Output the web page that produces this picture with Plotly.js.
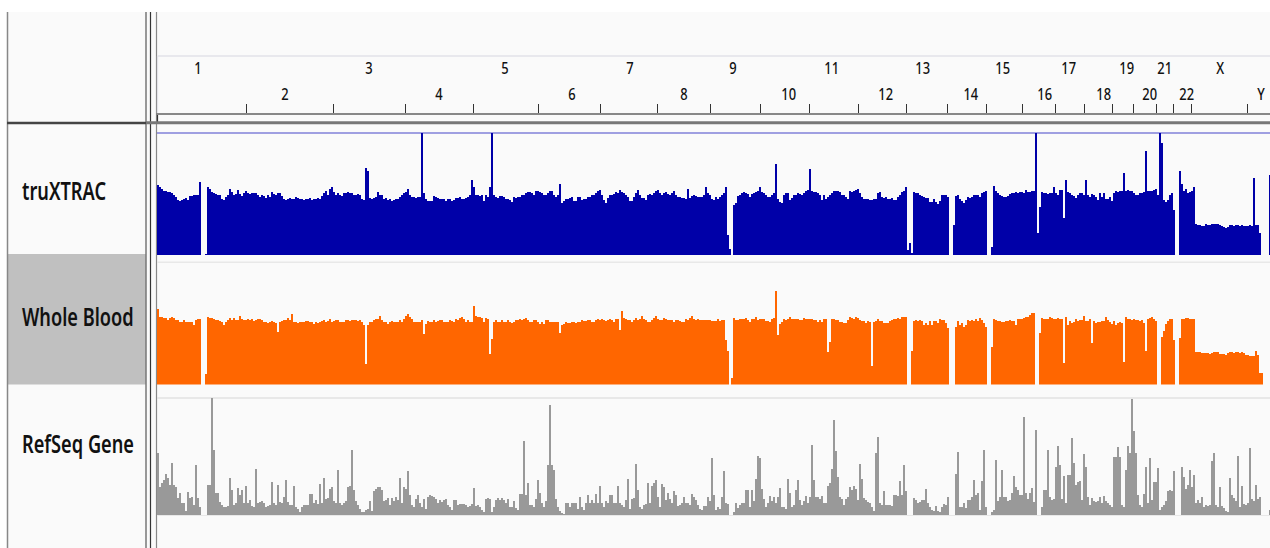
<!DOCTYPE html>
<html><head><meta charset="utf-8">
<script src="https://cdn.plot.ly/plotly-3.0.1.min.js"></script>
<style>html,body{margin:0;padding:0;background:#fff;overflow:hidden}#c{width:1270px;height:548px}
.annotation-text{transform-box:fill-box}</style>
</head><body><div id="c"></div>
<script>
const trackNames = ["truXTRAC","Whole Blood","RefSeq Gene"];
const chromNames = ["1","2","3","4","5","6","7","8","9","10","11","12","13","14","15","16","17","18","19","20","21","22","X","Y"];
const chromLabelMb = [113,356,590,784,968,1154,1315,1465,1602,1757,1877,2027,2130,2263,2350,2469,2536,2631,2695,2759,2801,2862,2957,3071];
const chromEndMb = [249,492,690,881,1062,1233,1392,1538,1679,1814.5,1949.5,2083.5,2198.5,2305.5,2408,2498,2579,2657,2716,2779,2827,2878,3033];
const binMb = 5.562;
const truXTRAC = [
70,68,66,64,64,63,63,62,60,58,
55,54,55,56,57,55,59,59,60,60,
60,73,0,0,1,68,66,63,62,61,
60,60,56,55,58,60,66,63,60,61,
65,61,59,62,64,62,61,62,62,62,
60,58,60,59,57,60,58,63,61,60,
62,62,59,56,55,56,57,56,56,58,
57,56,56,55,56,56,57,55,56,56,
57,56,59,62,64,60,66,68,63,60,
62,60,59,62,62,63,62,62,60,60,
61,60,56,55,87,84,57,56,57,58,
63,60,60,56,57,55,56,54,55,56,
56,58,60,62,63,66,60,58,58,57,
58,58,122,62,56,54,54,54,59,58,
57,56,56,56,54,56,56,54,55,57,
57,58,56,56,57,58,60,75,68,60,
60,59,60,54,60,58,68,122,60,58,
57,59,59,58,56,56,55,53,58,57,
58,58,60,60,62,63,63,62,60,64,
64,63,62,60,60,62,64,64,60,58,
60,71,52,54,56,56,57,58,54,54,
58,58,55,56,56,58,58,60,60,62,
64,65,60,55,52,57,60,60,61,63,
62,65,63,62,60,58,54,54,58,62,
65,60,57,57,55,60,61,60,62,64,
65,62,60,62,63,61,60,62,64,60,
58,58,57,57,56,66,57,59,60,59,
58,58,58,60,68,62,60,56,55,58,
56,58,60,62,68,20,6,0,50,52,
59,60,62,63,62,61,58,61,62,63,
64,68,63,62,60,58,58,60,62,91,
56,53,52,60,62,62,55,57,60,60,
62,61,60,62,64,65,86,64,63,63,
62,60,55,60,56,58,60,62,64,64,
64,63,60,60,58,56,64,63,64,65,
66,62,58,56,56,56,55,55,56,56,
62,63,58,57,58,56,56,57,55,55,
58,60,63,64,68,5,12,2,63,62,
62,60,59,58,57,57,53,53,56,53,
51,54,60,60,60,58,0,0,30,59,
60,56,54,52,55,58,57,58,60,60,
60,58,62,63,64,0,0,8,69,64,
62,60,59,58,58,59,61,62,62,63,
62,63,63,62,65,63,63,64,64,122,
22,48,63,62,62,61,62,62,68,62,
60,65,65,37,75,63,62,60,59,57,
60,62,62,60,75,60,58,61,60,58,
55,62,58,62,56,56,58,54,62,64,
63,64,64,82,64,65,64,64,62,60,
60,62,62,63,104,64,64,64,65,66,
60,122,112,55,53,55,60,62,45,0,
0,84,71,64,66,62,63,64,68,31,
30,30,29,29,31,30,30,31,31,31,
31,30,29,28,27,28,30,30,29,30,
30,29,30,29,29,29,30,29,77,30,
30,22,0,0,0,0,80];
const wholeBlood = [
76,68,68,67,67,65,67,68,67,65,
65,63,63,65,63,63,63,63,60,65,
66,66,0,0,11,68,67,67,66,65,
65,64,63,60,63,65,67,65,67,65,
65,69,66,65,65,66,65,66,64,65,
66,66,65,63,63,62,63,64,63,62,
53,63,64,65,65,67,65,71,63,63,
62,63,63,63,64,64,63,63,61,63,
62,63,64,65,63,64,66,63,64,65,
65,63,63,63,65,65,64,65,65,65,
64,65,63,60,21,60,63,63,65,66,
66,69,65,63,63,61,63,64,63,63,
63,65,63,66,69,71,68,66,63,63,
63,63,65,51,61,64,63,63,65,63,
64,65,65,63,63,63,65,64,63,66,
65,67,68,66,63,65,63,63,79,69,
68,68,67,63,67,66,31,46,63,65,
63,63,65,63,63,65,63,62,63,65,
65,66,65,66,67,65,63,63,65,65,
63,61,63,61,65,65,63,63,63,63,
63,52,60,61,63,62,62,63,63,62,
63,63,65,64,64,65,65,63,63,65,
66,65,66,65,64,65,66,65,63,66,
66,55,74,67,66,65,65,63,65,67,
65,66,69,66,65,63,63,65,67,69,
66,65,65,67,66,65,65,65,63,65,
65,64,63,63,66,65,67,69,66,65,
66,65,65,65,65,65,65,64,64,64,
66,64,65,65,45,34,0,7,67,65,
65,66,66,66,67,65,63,66,66,68,
65,66,66,66,64,64,63,66,67,94,
50,61,63,66,65,66,68,66,66,66,
66,65,65,67,66,66,66,66,65,65,
63,65,63,66,66,33,43,66,66,65,
65,63,63,62,62,65,68,67,66,68,
67,65,64,64,62,64,63,19,63,64,
66,64,64,62,62,62,64,65,66,66,
67,66,68,68,68,0,0,34,64,65,
64,65,64,60,62,60,64,60,64,64,
62,66,65,65,62,57,0,0,0,58,
64,60,62,58,60,65,64,65,64,66,
64,67,65,62,58,0,0,38,66,65,
64,64,63,63,64,64,65,64,64,60,
66,66,66,67,68,68,70,72,72,0,
0,52,67,66,66,66,68,67,66,66,
67,66,66,22,68,60,64,62,63,66,
64,65,65,69,64,64,66,42,64,62,
63,63,64,64,68,65,63,61,64,60,
62,63,62,23,68,66,66,65,66,65,
65,64,65,62,34,66,67,68,66,64,
0,0,48,54,61,64,66,66,45,0,
0,47,66,66,67,67,66,66,66,33,
33,33,32,32,32,32,31,32,33,33,
33,31,31,31,30,32,33,33,32,33,
33,32,33,32,30,30,29,29,29,34,
30,12,12,0,0,0,0];
const refSeqGene = [
62,28,32,35,41,37,30,52,30,28,
17,22,12,12,4,23,17,18,10,50,
17,8,0,0,0,30,30,117,65,22,
22,13,10,8,8,9,37,25,10,12,
27,20,25,12,29,12,15,9,8,46,
12,13,14,12,8,9,10,33,12,10,
30,13,12,18,35,13,10,10,29,8,
6,3,8,10,10,10,21,21,12,15,
11,31,12,37,16,17,26,28,14,12,
45,12,10,12,14,28,29,65,25,14,
10,6,3,3,5,6,14,4,24,26,
28,28,25,14,15,17,10,17,14,18,
15,37,12,28,26,44,20,10,8,16,
20,12,8,16,6,18,20,19,18,16,
12,15,13,15,16,10,8,5,15,15,
10,11,11,11,10,8,9,11,27,9,
10,8,5,3,16,17,16,3,8,15,
17,15,17,15,12,16,8,8,14,7,
5,21,21,74,20,32,10,10,8,16,
35,22,12,8,14,50,110,50,45,16,
8,4,2,1,12,12,8,12,12,12,
6,18,8,5,12,20,12,15,12,21,
12,29,12,8,14,12,20,20,12,12,
29,12,10,8,15,36,6,16,17,51,
25,8,6,10,11,32,12,29,32,35,
18,8,31,28,15,22,16,12,24,20,
9,10,12,18,12,12,10,21,18,15,
10,6,5,9,9,18,14,57,20,5,
8,6,18,44,12,11,0,0,3,12,
7,10,12,12,25,25,8,25,14,36,
59,57,26,16,8,12,19,14,18,12,
18,27,8,8,6,36,22,8,10,25,
35,15,10,14,19,12,18,70,35,18,
18,16,19,12,12,29,32,46,95,64,
38,18,16,10,16,18,28,25,29,26,
15,51,36,17,15,13,12,8,4,62,
78,12,10,24,10,10,10,9,20,20,
19,34,20,50,24,0,0,0,17,15,
12,13,15,15,26,12,8,5,4,9,
4,3,8,11,10,18,0,0,0,41,
63,8,8,12,7,15,15,18,35,20,
22,5,34,65,8,0,0,3,5,55,
14,18,45,18,18,14,15,22,39,28,
25,20,20,98,22,16,22,27,13,85,
0,0,8,25,25,65,18,15,16,48,
69,50,16,39,12,40,40,77,52,30,
33,34,15,61,48,18,10,17,14,13,
14,18,12,19,14,12,10,8,58,58,
68,58,10,8,45,69,62,116,84,62,
20,10,8,21,48,12,57,15,33,33,
47,5,8,10,14,24,25,24,44,0,
0,0,48,38,26,30,45,28,40,12,
15,12,18,8,10,9,10,54,62,10,
8,28,9,7,4,3,37,20,17,14,
59,8,29,11,10,12,67,16,14,30,
16,18,0,0,0,0,5];

const W = 1270, H = 548;
const py = v => 1 - v / H;
const px = v => v / W;
const FONT = '"Noto Sans","Open Sans",sans-serif';

function track(values, color, yaxis, name) {
  return {type:'bar', name, x0:binMb/2, dx:binMb, y:values, width:binMb, yaxis,
    marker:{color, line:{width:0}}, hoverinfo:'skip', showlegend:false};
}
const data = [
  track(truXTRAC,'#0000a8','y',trackNames[0]),
  track(wholeBlood,'#ff6600','y2',trackNames[1]),
  track(refSeqGene,'#999999','y3',trackNames[2])
];
const line = (x0,y0,x1,y1,color,width,layer) => ({type:'line',xref:'paper',yref:'paper',x0:px(x0),x1:px(x1),y0:py(y0),y1:py(y1),line:{color,width},layer:layer||'below'});
const rect = (x0,y0,x1,y1,fill) => ({type:'rect',xref:'paper',yref:'paper',x0:px(x0),x1:px(x1),y0:py(y0),y1:py(y1),fillcolor:fill,line:{width:0},layer:'below'});
const shapes = [
  rect(7,12,1270,548,'#fafafa'),
  rect(8,254,146,384.5,'#c0c0c0'),
  line(7.5,12,7.5,548,'#888888',1.5),
  line(146,12,146,548,'#777777',1.5),
  line(150.5,12,150.5,548,'#333333',1.2),
  line(156.5,12,156.5,548,'#888888',1.2),
  line(157.5,56,1270,56,'#e2e2e8',1.5),
  line(157.5,56,157.5,113,'#e2e2e8',1.2),
  line(157.5,113,157.5,122,'#333333',1.2),
  line(7,123,146,123,'#444444',2.5),
  line(146,122.8,1270,122.8,'#777777',3),
  line(157,133,1270,133,'#8080d8',1.5),
  line(157,262.3,1270,262.3,'#e8e8e8',1.5),
  line(157,398,1270,398,'#e2e2e2',1.5),
  line(157,515.5,1270,515.5,'#e8e8e8',1.2)
];
const annotations = [];
chromNames.forEach((n,i)=>annotations.push({text:n,xref:'x',yref:'paper',x:chromLabelMb[i],y:py(i%2===0?67.5:93.5),showarrow:false,xanchor:'center',yanchor:'middle',font:{family:FONT,size:17,weight:500,color:'#111'}}));
[190,316,443].forEach((y,i)=>annotations.push({text:trackNames[i],xref:'paper',yref:'paper',x:px(20),y:py(y),showarrow:false,xanchor:'left',yanchor:'middle',font:{family:FONT,size:26,weight:600,color:'#111'}}));
const layout = {
  width:W,height:H,margin:{l:0,r:0,t:0,b:0},paper_bgcolor:'#ffffff',plot_bgcolor:'rgba(0,0,0,0)',
  bargap:0,barmode:'overlay',showlegend:false,shapes,annotations,
  xaxis:{domain:[px(157),1],range:[0,3095],anchor:'free',position:py(113),side:'top',tickmode:'array',tickvals:chromEndMb,ticktext:chromEndMb.map(()=>''),showticklabels:false,ticks:'outside',ticklen:9,tickwidth:1,tickcolor:'#333',showline:true,linecolor:'#888888',linewidth:1.5,showgrid:false,zeroline:false,fixedrange:true},
  yaxis:{domain:[py(255),py(133)],range:[0,122],visible:false,fixedrange:true},
  yaxis2:{domain:[py(384.5),py(262.5)],range:[0,122],visible:false,fixedrange:true},
  yaxis3:{domain:[py(515),py(398)],range:[0,117],visible:false,fixedrange:true}
};
Plotly.newPlot('c',data,layout,{displayModeBar:false,staticPlot:true}).then(gd=>{
  // The reference uses a condensed typeface: narrow the real text elements horizontally.
  gd.querySelectorAll('.annotation').forEach((g,i)=>{
    const t=g.querySelector('.annotation-text');
    const isTrack=i>=chromNames.length;
    t.style.transformOrigin=isTrack?'left center':'center center';
    t.style.transform='scaleX('+(isTrack?0.7:0.76)+')';
  });
});
</script></body></html>
